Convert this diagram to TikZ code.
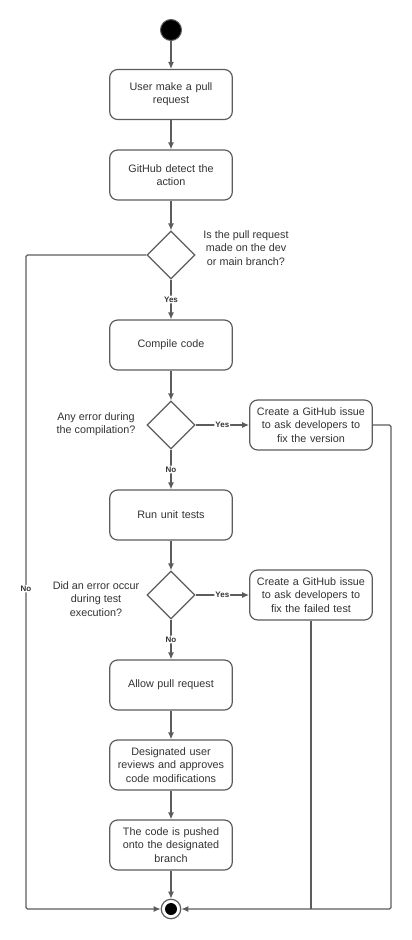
\documentclass[tikz,border=0pt]{standalone}
\usepackage{fontspec}
\setmainfont{Liberation Sans}
\usepackage{tikz}
\usetikzlibrary{arrows.meta}
\usetikzlibrary{shapes.geometric}
\usetikzlibrary{positioning}
\tikzset{arr/.style = {-{Latex[length = 7pt, width = 6pt]}}}
\tikzset{flow/.style = {draw = lgray, line width = 1.2pt, rounded corners = 1.5pt}}
\tikzset{act/.style = {draw = lgray, line width = 1.2pt, rounded corners = 8pt, fill = white,
                       minimum width = 120pt, minimum height = 50pt, align = center,
                       text width = 116pt, text = tgray, font = \fontsize{10.8}{13.3}\selectfont}}
\tikzset{dec/.style = {draw = lgray, line width = 1.2pt, diamond, fill = white, inner sep = 0,
                       minimum width = 48pt, minimum height = 48pt}}
\tikzset{quest/.style = {align = center, text = tgray, font = \fontsize{10.8}{13.3}\selectfont}}
\tikzset{tag/.style = {fill = white, inner sep = 1pt, text = tgray, font = \fontsize{8}{9}\selectfont\bfseries}}
\definecolor{lgray}{rgb}{0.36, 0.36, 0.36}
\definecolor{tgray}{rgb}{0.2, 0.2, 0.2}

\begin{document}
\begin{tikzpicture}[x = 1pt, y = -1pt]
      \useasboundingbox (0, 0) rectangle (412, 940);

      \node [circle, fill = black, draw = lgray, line width = 1pt, minimum size = 21pt, inner sep = 0] (start) at (171, 30) {};
      \node [act] (pr) at (171, 94.5) {User make a pull\\request};
      \node [act] (detect) at (171, 175) {GitHub detect the\\action};
      \node [dec] (isdev) at (171, 255) {};
      \node [quest] (qdev) at (246, 248) {Is the pull request\\made on the dev\\or main branch?};
      \node [act] (compile) at (171, 345) {Compile code};
      \node [dec] (comperr) at (171, 425) {};
      \node [quest] (qcomp) at (96, 424) {Any error during\\the compilation?};
      \node [act] (issue1) at (311, 425) {Create a GitHub issue\\to ask developers to\\fix the version};
      \node [act] (tests) at (171, 515) {Run unit tests};
      \node [dec] (testerr) at (171, 595) {};
      \node [quest] (qtest) at (96, 599) {Did an error occur\\during test\\execution?};
      \node [act] (issue2) at (311, 595) {Create a GitHub issue\\to ask developers to\\fix the failed test};
      \node [act] (allow) at (171, 685) {Allow pull request};
      \node [act] (review) at (171, 765) {Designated user\\reviews and approves\\code modifications};
      \node [act] (push) at (171, 845) {The code is pushed\\onto the designated\\branch};
      \node [circle, draw = lgray, line width = 1.2pt, fill = white, minimum size = 19.5pt, inner sep = 0,
             path picture = {\fill [black] (path picture bounding box.center) circle (6pt);}] (stop) at (171, 909) {};

      \coordinate (lfar) at (26, 255);
      \coordinate (rfar) at (391, 425);

      \draw [flow, arr] (start) -- (pr);
      \draw [flow, arr] (pr) -- (detect);
      \draw [flow, arr] (detect) -- (isdev);
      \draw [flow, arr] (isdev) -- node [tag] (yes1) {Yes} (compile);
      \draw [flow, arr] (compile) -- (comperr);
      \draw [flow, arr] (comperr) -- node [tag] (yes2) {Yes} (issue1);
      \draw [flow, arr] (comperr) -- node [tag] (no2) {No} (tests);
      \draw [flow, arr] (tests) -- (testerr);
      \draw [flow, arr] (testerr) -- node [tag] (yes3) {Yes} (issue2);
      \draw [flow, arr] (testerr) -- node [tag] (no3) {No} (allow);
      \draw [flow, arr] (allow) -- (review);
      \draw [flow, arr] (review) -- (push);
      \draw [flow, arr] (push) -- (stop);

      \draw [flow, arr] (isdev.west) -- (lfar) -- node [tag, pos = 0.51] (no1) {No} (lfar |- stop) -- (stop);
      \draw [flow, arr] (issue1.east) -- (rfar) -- (rfar |- stop) -- (stop);
      \draw [flow] (issue2) -- (issue2 |- stop);
    \end{tikzpicture}
\end{document}
